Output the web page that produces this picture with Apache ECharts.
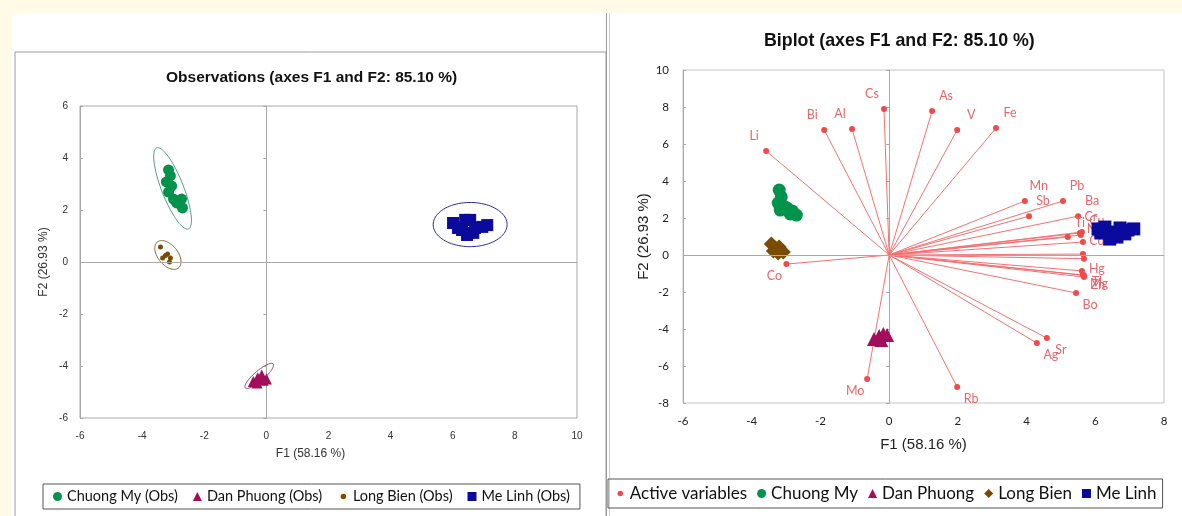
<!DOCTYPE html>
<html><head><meta charset="utf-8">
<script src="https://cdn.jsdelivr.net/npm/echarts@6/dist/echarts.min.js"></script>
<style>html,body{margin:0;padding:0;background:#fffbe7;}#c{width:1182px;height:516px;}</style>
</head><body><div id="c"></div>
<script>
// ---------- Tick labels ----------
const obsXTicks = [-6, -4, -2, 0, 2, 4, 6, 8, 10];
const obsYTicks = [-6, -4, -2, 0, 2, 4, 6];
const bipXTicks = [-6, -4, -2, 0, 2, 4, 6, 8];
const bipYTicks = [-8, -6, -4, -2, 0, 2, 4, 6, 8, 10];

// ---------- Observations chart (left) ----------
const obsChuongMyF1 = [-3.15, -3.09, -3.22, -3.05, -3.15, -2.99, -2.73, -2.70, -2.89];
const obsChuongMyF2 = [3.54, 3.31, 3.08, 2.92, 2.69, 2.42, 2.42, 2.08, 2.27];
const obsDanPhuongF1 = [-0.42, -0.28, -0.15, -0.10, -0.30, 0.00];
const obsDanPhuongF2 = [-4.60, -4.45, -4.35, -4.55, -4.65, -4.50];
const obsLongBienF1 = [-3.41, -3.34, -3.18, -3.09, -3.12, -3.25];
const obsLongBienF2 = [0.58, 0.15, 0.31, 0.15, 0.00, 0.25];
const obsMeLinhF1 = [6.01, 6.17, 6.40, 6.56, 6.72, 6.66, 6.95, 7.11, 6.46, 6.30];
const obsMeLinhF2 = [1.50, 1.31, 1.62, 1.62, 1.31, 1.12, 1.35, 1.42, 1.04, 1.23];

// confidence ellipses: centre and two conjugate half-axes (data units)
const ellipseGroups = ['Chuong My', 'Dan Phuong', 'Long Bien', 'Me Linh'];
const ellipseCenterF1 = [-3.02, -0.23, -3.17, 6.56];
const ellipseCenterF2 = [2.83, -4.38, 0.27, 1.44];
const ellipseAxisU_F1 = [0.51, 0.45, 0.34, 1.19];
const ellipseAxisU_F2 = [-1.56, 0.46, -0.50, 0.00];
const ellipseAxisV_F1 = [0.33, 0.106, 0.25, 0.00];
const ellipseAxisV_F2 = [0.15, -0.146, 0.24, 0.85];

// ---------- Biplot (right) ----------
const varNames = ['Li','Bi','Al','Cs','As','V','Fe','Mn','Pb','Sb','Ba','Cr','Cu','Ti','Ni','Cd','','','Hg','Tl','Zn','Mg','Bo','Sr','Ag','Rb','Mo','Co'];
const varF1 = [-3.58,-1.89,-1.08,-0.15,1.25,1.98,3.11,3.95,5.06,4.07,5.50,5.55,5.61,5.20,5.58,5.64,5.64,5.67,5.61,5.64,5.67,5.67,5.44,4.59,4.30,1.98,-0.64,-2.99];
const varF2 = [5.62,6.76,6.81,7.89,7.78,6.76,6.86,2.92,2.92,2.10,2.10,1.19,1.24,0.97,1.08,0.70,0.05,-0.20,-0.86,-1.08,-1.19,-1.10,-2.05,-4.49,-4.76,-7.14,-6.70,-0.49];
const bipChuongMyF1 = [-3.20, -3.14, -3.23, -3.08, -3.17, -2.97, -2.82, -2.70, -2.88];
const bipChuongMyF2 = [3.51, 3.14, 2.81, 2.65, 2.43, 2.54, 2.38, 2.16, 2.22];
const bipDanPhuongF1 = [-0.44, -0.29, -0.17, -0.06, -0.23];
const bipDanPhuongF2 = [-4.54, -4.38, -4.27, -4.32, -4.59];
const bipLongBienF1 = [-3.43, -3.31, -3.20, -3.37, -3.08, -3.23];
const bipLongBienF2 = [0.59, 0.38, 0.43, 0.22, 0.16, 0.11];
const bipMeLinhF1 = [6.08, 6.28, 6.48, 6.72, 6.95, 7.12, 6.63, 6.42, 6.86, 6.16];
const bipMeLinhF2 = [1.41, 1.51, 1.24, 1.46, 1.35, 1.41, 0.97, 0.86, 1.14, 1.19];

// ---------- styles ----------
const C_GREEN = '#00934a', C_MAG = '#a30d5c', C_BROWN = '#7a4b00', C_BLUE = '#0a0a9c';
const C_VAR = '#f04a4a', C_VARTXT = '#e8666a', C_LINE = '#f27272';
const ellColors = { 'Chuong My': '#4f9f80', 'Dan Phuong': '#a0306a', 'Long Bien': '#8a6a30', 'Me Linh': '#2a2a9a' };
const FONT = 'Lato, "Open Sans", sans-serif';
const ARIAL = '"Liberation Sans", Arial, sans-serif';
const ZERO = '#a8a8a8';
const SMALL_DOT = { borderColor: '#ffffff', borderWidth: 3.5 };

const zip = (a, b) => a.map((v, i) => [v, b[i]]);
function axis(ticks, grid, extra) {
  return Object.assign({
    type: 'value', gridIndex: grid, min: ticks[0], max: ticks[ticks.length - 1],
    interval: ticks[1] - ticks[0], splitLine: { show: false },
    axisLine: { show: false, onZero: false }, axisTick: { show: false }
  }, extra);
}
// vertical zero line with small crossing ticks
function zeroAxis(ticks, grid, inside) {
  return axis(ticks, grid, {
    position: 'left', axisLabel: { show: false },
    axisLine: { show: true, onZero: true, lineStyle: { color: ZERO, width: 1 } },
    axisTick: { show: true, inside: inside, length: 3, lineStyle: { color: ZERO } }
  });
}

const ellipseData = ellipseGroups.map((g, i) => ({
  name: g,
  value: [ellipseCenterF1[i], ellipseCenterF2[i], ellipseAxisU_F1[i], ellipseAxisU_F2[i], ellipseAxisV_F1[i], ellipseAxisV_F2[i]]
}));

// label offsets for the variable names (pushed outward from the origin); crowded ones adjusted
const labelOverride = { Cr: [11, -16], Cu: [15, -11], Ti: [12, -14], Ni: [12, -6], Cd: [14, -1],
  Hg: [15, -2], Tl: [14, 7], Zn: [14, 8], Mg: [15, 9] };
const labelOffsets = varNames.map((n, i) => {
  if (labelOverride[n]) return labelOverride[n];
  return [varF1[i] >= 0 ? 14 : -12, varF2[i] >= 0 ? -15 : 12];
});
const varData = varNames.map((n, i) => ({ name: n, value: [varF1[i], varF2[i]] }));
const varLines = varNames.map((n, i) => ({ coords: [[0, 0], [varF1[i], varF2[i]]] }));

const zeroLine = {
  silent: true, symbol: 'none', label: { show: false },
  lineStyle: { color: ZERO, type: 'solid', width: 1 },
  data: [{ yAxis: 0 }]
};

const chart = echarts.init(document.getElementById('c'));
chart.setOption({
  backgroundColor: 'transparent',
  animation: false,
  graphic: [
    { type: 'rect', shape: { x: 12, y: 13, width: 1170, height: 503 }, style: { fill: '#ffffff' }, z: -10 },
    { type: 'rect', shape: { x: 15, y: 52, width: 591, height: 470 }, style: { fill: 'none', stroke: '#9a9a9a', lineWidth: 1 }, z: -9 },
    { type: 'line', shape: { x1: 606.5, y1: 13, x2: 606.5, y2: 516 }, style: { stroke: '#9a9a9a', lineWidth: 1 }, z: -9 },
    { type: 'line', shape: { x1: 609.5, y1: 13, x2: 609.5, y2: 516 }, style: { stroke: '#d0d0d0', lineWidth: 1 }, z: -9 }
  ],
  title: [
    { text: 'Observations (axes F1 and F2: 85.10 %)', left: 161, top: 65,
      textStyle: { fontFamily: ARIAL, fontSize: 15.5, fontWeight: 'bold', color: '#111' } },
    { text: 'Biplot (axes F1 and F2: 85.10 %)', left: 759, top: 27,
      textStyle: { fontFamily: ARIAL, fontSize: 17.8, fontWeight: 'bold', color: '#111' } }
  ],
  legend: [
    { left: 43, top: 484, padding: [5, 10], borderColor: '#555', borderWidth: 1,
      itemWidth: 9, itemHeight: 9, itemGap: 15,
      textStyle: { fontFamily: FONT, fontSize: 14.5, color: '#111' },
      data: [
        { name: 'Chuong My (Obs)', icon: 'circle' },
        { name: 'Dan Phuong (Obs)', icon: 'triangle' },
        { name: 'Long Bien (Obs)', icon: 'circle', itemStyle: SMALL_DOT },
        { name: 'Me Linh (Obs)', icon: 'rect' }
      ] },
    { left: 608, top: 479, padding: [6, 6], borderColor: '#555', borderWidth: 1,
      itemWidth: 9, itemHeight: 9, itemGap: 10,
      textStyle: { fontFamily: FONT, fontSize: 17, color: '#111' },
      data: [
        { name: 'Active variables', icon: 'circle', itemStyle: SMALL_DOT },
        { name: 'Chuong My', icon: 'circle' },
        { name: 'Dan Phuong', icon: 'triangle' },
        { name: 'Long Bien', icon: 'diamond' },
        { name: 'Me Linh', icon: 'rect' }
      ] }
  ],
  grid: [
    { left: 80, top: 106, width: 497, height: 312, show: true, borderColor: '#a8a8a8', borderWidth: 1, backgroundColor: '#fff' },
    { left: 683, top: 70, width: 481, height: 333, show: true, borderColor: '#c4c4c4', borderWidth: 1, backgroundColor: '#fff' }
  ],
  xAxis: [
    axis(obsXTicks, 0, { name: 'F1 (58.16 %)', nameLocation: 'middle', nameGap: 30,
      nameTextStyle: { fontFamily: ARIAL, fontSize: 12, color: '#333', padding: [0, 36, 0, 0] },
      axisLabel: { fontFamily: ARIAL, fontSize: 10, color: '#333', margin: 13 } }),
    axis(bipXTicks, 1, { name: 'F1 (58.16 %)', nameLocation: 'middle', nameGap: 34,
      nameTextStyle: { fontFamily: ARIAL, fontSize: 15, color: '#222' },
      axisLabel: { fontFamily: FONT, fontSize: 11.5, color: '#222', margin: 12 } })
  ],
  yAxis: [
    axis(obsYTicks, 0, { name: 'F2 (26.93 %)', nameLocation: 'middle', nameGap: 30,
      nameTextStyle: { fontFamily: ARIAL, fontSize: 12, color: '#333' },
      axisLabel: { fontFamily: ARIAL, fontSize: 10, color: '#333', margin: 12 } }),
    axis(bipYTicks, 1, { name: 'F2 (26.93 %)', nameLocation: 'middle', nameGap: 32,
      nameTextStyle: { fontFamily: ARIAL, fontSize: 15, color: '#222' },
      axisLabel: { fontFamily: FONT, fontSize: 11.5, color: '#222', margin: 14 } }),
    zeroAxis(obsYTicks, 0, false),
    zeroAxis(obsYTicks, 0, true),
    zeroAxis(bipYTicks, 1, false),
    zeroAxis(bipYTicks, 1, true)
  ],
  series: [
    // ---- left ----
    { type: 'custom', name: 'ellipses', xAxisIndex: 0, yAxisIndex: 0, silent: true, z: 1,
      encode: { x: 0, y: 1 }, data: ellipseData,
      renderItem: function (params, api) {
        const cx = api.value(0), cy = api.value(1), ux = api.value(2), uy = api.value(3), vx = api.value(4), vy = api.value(5);
        const pts = [];
        for (let k = 0; k < 90; k++) {
          const t = k / 90 * 2 * Math.PI;
          pts.push(api.coord([cx + ux * Math.cos(t) + vx * Math.sin(t), cy + uy * Math.cos(t) + vy * Math.sin(t)]));
        }
        return { type: 'polygon', shape: { points: pts },
          style: { fill: 'transparent', stroke: ellColors[ellipseGroups[params.dataIndex]], lineWidth: 1 } };
      },
      markLine: zeroLine },
    { type: 'scatter', name: 'Chuong My (Obs)', xAxisIndex: 0, yAxisIndex: 0, symbol: 'circle', symbolSize: 11,
      itemStyle: { color: C_GREEN, opacity: 1 }, data: zip(obsChuongMyF1, obsChuongMyF2), z: 3 },
    { type: 'scatter', name: 'Dan Phuong (Obs)', xAxisIndex: 0, yAxisIndex: 0, symbol: 'triangle', symbolSize: 11,
      itemStyle: { color: C_MAG, opacity: 1 }, data: zip(obsDanPhuongF1, obsDanPhuongF2), z: 3 },
    { type: 'scatter', name: 'Long Bien (Obs)', xAxisIndex: 0, yAxisIndex: 0, symbol: 'circle', symbolSize: 5,
      itemStyle: { color: C_BROWN, opacity: 1 }, data: zip(obsLongBienF1, obsLongBienF2), z: 3 },
    { type: 'scatter', name: 'Me Linh (Obs)', xAxisIndex: 0, yAxisIndex: 0, symbol: 'rect', symbolSize: 12,
      itemStyle: { color: C_BLUE, opacity: 1 }, data: zip(obsMeLinhF1, obsMeLinhF2), z: 3 },
    // ---- right ----
    { type: 'lines', name: 'vectors', coordinateSystem: 'cartesian2d', xAxisIndex: 1, yAxisIndex: 1, silent: true, z: 2,
      lineStyle: { color: C_LINE, width: 1, opacity: 1, curveness: 0 }, data: varLines },
    { type: 'scatter', name: 'Active variables', xAxisIndex: 1, yAxisIndex: 1, symbol: 'circle', symbolSize: 6, z: 3,
      itemStyle: { color: C_VAR, opacity: 1 },
      label: { show: true, position: 'inside', formatter: '{b}', color: C_VARTXT, fontFamily: FONT, fontSize: 12.5 },
      labelLayout: function (p) { const o = labelOffsets[p.dataIndex]; return { dx: o[0], dy: o[1], hideOverlap: false }; },
      data: varData,
      markLine: zeroLine },
    { type: 'scatter', name: 'Chuong My', xAxisIndex: 1, yAxisIndex: 1, symbol: 'circle', symbolSize: 13,
      itemStyle: { color: C_GREEN, opacity: 1 }, data: zip(bipChuongMyF1, bipChuongMyF2), z: 4 },
    { type: 'scatter', name: 'Dan Phuong', xAxisIndex: 1, yAxisIndex: 1, symbol: 'triangle', symbolSize: 14,
      itemStyle: { color: C_MAG, opacity: 1 }, data: zip(bipDanPhuongF1, bipDanPhuongF2), z: 4 },
    { type: 'scatter', name: 'Long Bien', xAxisIndex: 1, yAxisIndex: 1, symbol: 'diamond', symbolSize: 15,
      itemStyle: { color: C_BROWN, opacity: 1 }, data: zip(bipLongBienF1, bipLongBienF2), z: 4 },
    { type: 'scatter', name: 'Me Linh', xAxisIndex: 1, yAxisIndex: 1, symbol: 'rect', symbolSize: 13,
      itemStyle: { color: C_BLUE, opacity: 1 }, data: zip(bipMeLinhF1, bipMeLinhF2), z: 4 }
  ]
});
</script></body></html>
